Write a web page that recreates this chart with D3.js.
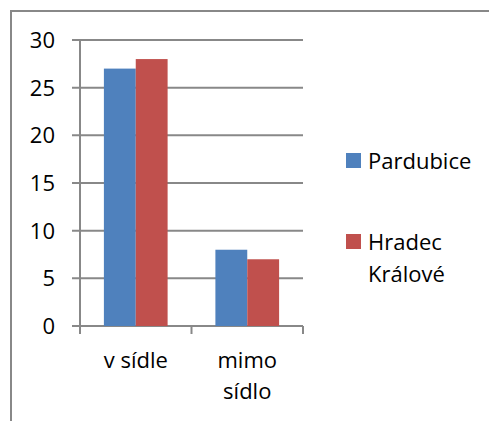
<!DOCTYPE html>
<html>
<head>
<meta charset="utf-8">
<script src="https://cdn.jsdelivr.net/npm/d3@7"></script>
<style>
  body { margin: 0; background: #fff; }
  text { font-family: "Open Sans", sans-serif; font-size: 22px; fill: #000; }
</style>
</head>
<body>
<div id="chart"></div>
<script>
const categories = [["v sídle"], ["mimo", "sídlo"]];
const seriesNames = ["Pardubice", "Hradec Králové"];
const pardubice = [27, 8];
const hradec = [28, 7];
const yTicks = [0, 5, 10, 15, 20, 25, 30];

const width = 489;
const height = 421;
const colors = ["#4F81BD", "#C0504D"];
const gridColor = "#888888";

const svg = d3.select("#chart")
    .append("svg")
    .attr("width", width)
    .attr("height", height);

// chart frame (only top and left edges are visible)
svg.append("line")
    .attr("x1", 10).attr("x2", width)
    .attr("y1", 11).attr("y2", 11)
    .attr("stroke", gridColor).attr("stroke-width", 2);
svg.append("line")
    .attr("x1", 11).attr("x2", 11)
    .attr("y1", 10).attr("y2", height)
    .attr("stroke", gridColor).attr("stroke-width", 2);

const x0 = d3.scaleBand()
    .domain(categories.map(d => d.join(" ")))
    .range([80, 303]);

const x1 = d3.scaleBand()
    .domain(seriesNames)
    .range([0, x0.bandwidth()])
    .paddingOuter(0.75);

const y = d3.scaleLinear()
    .domain([0, 30])
    .range([326, 40]);

// gridlines
svg.append("g")
  .selectAll("line")
  .data(yTicks)
  .join("line")
    .attr("x1", 72)
    .attr("x2", 303)
    .attr("y1", d => y(d))
    .attr("y2", d => y(d))
    .attr("stroke", gridColor)
    .attr("stroke-width", 2);

// y tick labels
svg.append("g")
  .selectAll("text")
  .data(yTicks)
  .join("text")
    .attr("x", 55)
    .attr("y", d => y(d) + 8)
    .attr("text-anchor", "end")
    .text(d => d);

// bars
const data = categories.map((c, i) => ({
  key: c.join(" "),
  values: [pardubice[i], hradec[i]]
}));

const groups = svg.append("g")
  .selectAll("g")
  .data(data)
  .join("g")
    .attr("transform", d => `translate(${x0(d.key)},0)`);

groups.selectAll("rect")
  .data(d => d.values.map((v, j) => ({ name: seriesNames[j], value: v, j })))
  .join("rect")
    .attr("x", d => x1(d.name))
    .attr("y", d => y(d.value))
    .attr("width", x1.bandwidth())
    .attr("height", d => y(0) - y(d.value))
    .attr("fill", d => colors[d.j]);

// y axis line
svg.append("line")
    .attr("x1", 80).attr("x2", 80)
    .attr("y1", y(30)).attr("y2", 334)
    .attr("stroke", gridColor).attr("stroke-width", 2);

// x axis category ticks
const xTickPos = [80, ...x0.domain().map(d => x0(d) + x0.bandwidth())];
svg.append("g")
  .selectAll("line")
  .data(xTickPos)
  .join("line")
    .attr("x1", d => d).attr("x2", d => d)
    .attr("y1", y(0)).attr("y2", 334)
    .attr("stroke", gridColor).attr("stroke-width", 2);

// x labels
const xl = svg.append("g")
  .selectAll("text")
  .data(categories)
  .join("text")
    .attr("text-anchor", "middle")
    .attr("x", (d, i) => x0(data[i].key) + x0.bandwidth() / 2);
xl.selectAll("tspan")
  .data(d => d)
  .join("tspan")
    .attr("x", function () { return d3.select(this.parentNode).attr("x"); })
    .attr("y", (d, i) => 368 + i * 31)
    .text(d => d);

// legend
const legendLines = [["Pardubice"], ["Hradec", "Králové"]];
const legendY = [169, 250];
const legend = svg.append("g")
  .selectAll("g")
  .data(legendLines)
  .join("g");
legend.append("rect")
    .attr("x", 346)
    .attr("y", (d, i) => legendY[i] - 16)
    .attr("width", 15)
    .attr("height", 15)
    .attr("fill", (d, i) => colors[i]);
legend.append("text")
  .selectAll("tspan")
  .data((d, i) => d.map(t => ({ t, i })))
  .join("tspan")
    .attr("x", 368)
    .attr("y", (d, k) => legendY[d.i] + k * 32)
    .text(d => d.t);
</script>
</body>
</html>
